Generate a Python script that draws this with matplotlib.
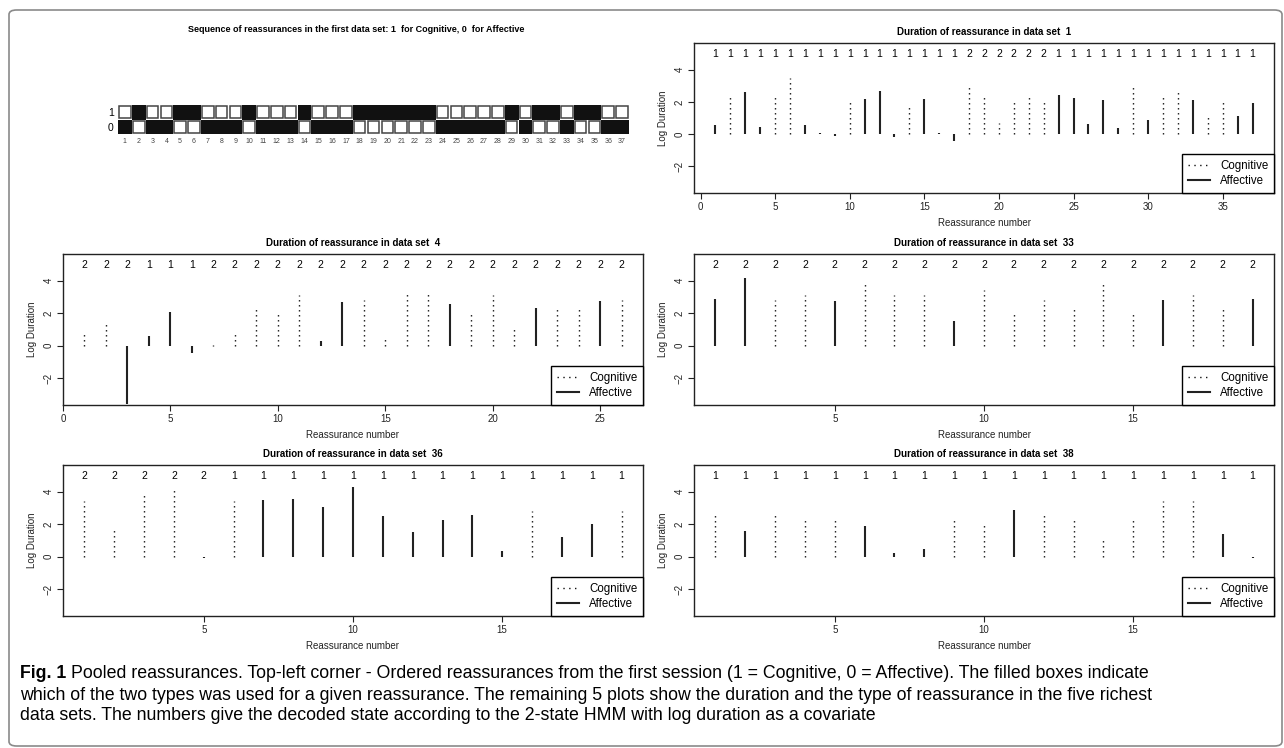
import matplotlib
matplotlib.use("Agg")
import matplotlib.pyplot as plt
from matplotlib.patches import Rectangle, FancyBboxPatch
from matplotlib.lines import Line2D

plt.rcParams["font.family"] = ["Liberation Sans", "DejaVu Sans"]

# ---- data ----
# sequence of the first data set: 1 = Cognitive, 0 = Affective
seq_first = [0, 1, 0, 0, 1, 1, 0, 0, 0, 1, 0, 0, 0, 1, 0, 0, 0, 1, 1, 1,
             1, 1, 1, 0, 0, 0, 0, 0, 1, 0, 1, 1, 0, 1, 1, 0, 0]

ds1_logdur = [0.55, 2.45, 2.6, 0.45, 2.45, 3.45, 0.55, 0.05, -0.1, 2.1,
              2.15, 2.7, -0.2, 1.75, 2.2, 0.05, -0.4, 3.1, 2.45, 0.7,
              2.1, 2.45, 2.1, 2.4, 2.25, 0.65, 2.1, 0.4, 3.1, 0.9,
              2.45, 2.75, 2.1, 1.1, 2.1, 1.1, 1.9]
ds1_type = seq_first
ds1_state = [1, 1, 1, 1, 1, 1, 1, 1, 1, 1, 1, 1, 1, 1, 1, 1, 1, 2, 2, 2,
             2, 2, 2, 1, 1, 1, 1, 1, 1, 1, 1, 1, 1, 1, 1, 1, 1]

ds4_logdur = [0.7, 1.4, -3.6, 0.6, 2.1, -0.45, 0.05, 0.7, 2.45, 2.1,
              3.1, 0.3, 2.7, 2.8, 0.4, 3.4, 3.4, 2.55, 2.1, 3.1,
              1.05, 2.3, 2.45, 2.45, 2.75, 2.8]
ds4_type = [1, 1, 0, 0, 0, 0, 1, 1, 1, 1, 1, 0, 0, 1, 1, 1, 1, 0, 1, 1,
            1, 0, 1, 1, 0, 1]
ds4_state = [2, 2, 2, 1, 1, 1, 2, 2, 2, 2, 2, 2, 2, 2, 2, 2, 2, 2, 2, 2,
             2, 2, 2, 2, 2, 2]

ds33_logdur = [2.85, 4.2, 2.8, 3.1, 2.75, 3.8, 3.1, 3.1, 1.5, 3.45,
               2.1, 2.8, 2.45, 3.8, 2.1, 2.8, 3.1, 2.45, 2.9]
ds33_type = [0, 0, 1, 1, 0, 1, 1, 1, 0, 1, 1, 1, 1, 1, 1, 0, 1, 1, 0]
ds33_state = [2, 2, 2, 2, 2, 2, 2, 2, 2, 2, 2, 2, 2, 2, 2, 2, 2, 2, 2]

ds36_logdur = [3.45, 1.75, 3.8, 4.15, -0.1, 3.45, 3.5, 3.55, 3.05, 4.3,
               2.5, 1.5, 2.25, 2.55, 0.35, 2.8, 1.2, 2.0, 2.8]
ds36_type = [1, 1, 1, 1, 0, 1, 0, 0, 0, 0, 0, 0, 0, 0, 0, 1, 0, 0, 1]
ds36_state = [2, 2, 2, 2, 2, 1, 1, 1, 1, 1, 1, 1, 1, 1, 1, 1, 1, 1, 1]

ds38_logdur = [2.75, 1.6, 2.75, 2.45, 2.45, 1.9, 0.2, 0.5, 2.45, 2.1,
               2.9, 2.75, 2.45, 1.1, 2.45, 3.45, 3.45, 1.4, -0.1]
ds38_type = [1, 0, 1, 1, 1, 0, 0, 0, 1, 1, 0, 1, 1, 1, 1, 1, 1, 0, 0]
ds38_state = [1, 1, 1, 1, 1, 1, 1, 1, 1, 1, 1, 1, 1, 1, 1, 1, 1, 1, 1]

caption_lines = [
    "Pooled reassurances. Top-left corner - Ordered reassurances from the first session (1 = Cognitive, 0 = Affective). The filled boxes indicate",
    "which of the two types was used for a given reassurance. The remaining 5 plots show the duration and the type of reassurance in the five richest",
    "data sets. The numbers give the decoded state according to the 2-state HMM with log duration as a covariate",
]

W, H = 1284, 748
DOT = (0, (1, 2.6))


def px_axes(fig, left, top, right, bottom):
    return fig.add_axes([left / W, 1 - bottom / H, (right - left) / W, (bottom - top) / H])


def duration_panel(ax, name, logdur, types, states):
    n = len(logdur)
    xs = list(range(1, n + 1))
    for x, y, t in zip(xs, logdur, types):
        if t == 1:
            ax.vlines(x, 0, y, colors="#111111", linestyles=[DOT], linewidth=1.0)
        else:
            ax.vlines(x, 0, y, colors="#222222", linestyles="solid", linewidth=1.5)
    for x, s in zip(xs, states):
        ax.text(x, 4.95, str(s), ha="center", va="center", fontsize=7.5)
    # R style 4% axis extension
    ext = 0.04 * (n - 1)
    ax.set_xlim(1 - ext, n + ext)
    ax.set_ylim(-3.65, 5.65)
    ax.set_yticks([-2, 0, 2, 4])
    ax.set_xticks([t for t in range(0, n + 1, 5) if t >= 1 - ext])
    ax.tick_params(axis="both", direction="out", length=4, width=0.8,
                   labelsize=7, colors="#222222", pad=2.5)
    ax.tick_params(axis="y", labelrotation=90)
    for lbl in ax.get_yticklabels():
        lbl.set_va("center")
    for sp in ax.spines.values():
        sp.set_linewidth(1.0)
        sp.set_color("#222222")
    ax.set_xlabel("Reassurance number", fontsize=7, labelpad=4, color="#222222")
    ax.set_ylabel("Log Duration", fontsize=7, labelpad=5, color="#222222")
    ax.set_title(f"Duration of reassurance in data set  {name}", fontsize=7,
                 fontweight="bold", pad=6)
    handles = [Line2D([], [], color="#111111", linestyle=(0, (1, 3.2)), linewidth=1.0),
               Line2D([], [], color="#222222", linestyle="solid", linewidth=1.5)]
    leg = ax.legend(handles, ["Cognitive", "Affective"], loc="lower right",
                    borderaxespad=0, fontsize=8.3, handlelength=1.9,
                    fancybox=False, framealpha=1, edgecolor="black",
                    borderpad=0.5, labelspacing=0.3, handletextpad=0.9)
    leg.get_frame().set_linewidth(1.0)


fig = plt.figure(figsize=(12.84, 7.48), dpi=100)

# outer rounded frame
frame = FancyBboxPatch((9 / W, 2 / H), 1273 / W, 736 / H,
                       boxstyle="round,pad=0,rounding_size=0.006",
                       transform=fig.transFigure, facecolor="none",
                       edgecolor="#8a8a8a", linewidth=1.2)
fig.patches.append(frame)

# ---- sequence panel ----
ax0 = px_axes(fig, 118, 105, 629, 134)
for i, c in enumerate(seq_first):
    x = i + 1
    for row, filled in ((1, c == 1), (0, c == 0)):
        if filled:
            ax0.add_patch(Rectangle((x - 0.5, row - 0.5), 1, 1,
                                    facecolor="#111111", edgecolor="none"))
        else:
            ax0.add_patch(Rectangle((x - 0.42, row - 0.42), 0.84, 0.84,
                                    facecolor="white", edgecolor="#444444",
                                    linewidth=1.1))
ax0.set_xlim(0.5, len(seq_first) + 0.5)
ax0.set_ylim(-0.5, 1.5)
ax0.set_xticks(range(1, len(seq_first) + 1))
ax0.set_yticks([0, 1])
ax0.tick_params(axis="x", length=0, labelsize=5, pad=3, labelcolor="#444444")
ax0.tick_params(axis="y", length=0, labelsize=7.5, pad=3)
for sp in ax0.spines.values():
    sp.set_visible(False)
fig.text(356 / W, 1 - 30 / H,
         "Sequence of reassurances in the first data set: 1  for Cognitive, 0  for Affective",
         ha="center", va="center", fontsize=6.5, fontweight="bold")

# ---- duration panels ----
ax1 = px_axes(fig, 694, 43, 1274, 193)
duration_panel(ax1, "1", ds1_logdur, ds1_type, ds1_state)

ax4 = px_axes(fig, 63, 254, 643, 405)
duration_panel(ax4, "4", ds4_logdur, ds4_type, ds4_state)

ax33 = px_axes(fig, 694, 254, 1274, 405)
duration_panel(ax33, "33", ds33_logdur, ds33_type, ds33_state)

ax36 = px_axes(fig, 63, 465, 643, 616)
duration_panel(ax36, "36", ds36_logdur, ds36_type, ds36_state)

ax38 = px_axes(fig, 694, 465, 1274, 616)
duration_panel(ax38, "38", ds38_logdur, ds38_type, ds38_state)

# ---- caption ----
cap_size = 12.8
y0 = 674
fig_lbl = fig.text(20 / W, 1 - y0 / H, "Fig. 1", fontsize=cap_size,
                   fontweight="bold", ha="left", va="center")
renderer = fig.canvas.get_renderer()
bb = fig_lbl.get_window_extent(renderer=renderer)
fig.text((bb.x1 + 5) / W, 1 - y0 / H, caption_lines[0], fontsize=cap_size,
         ha="left", va="center")
fig.text(20 / W, 1 - (y0 + 21) / H, caption_lines[1], fontsize=cap_size,
         ha="left", va="center")
fig.text(20 / W, 1 - (y0 + 42) / H, caption_lines[2], fontsize=cap_size,
         ha="left", va="center")

fig.savefig("out.png", dpi=100)
